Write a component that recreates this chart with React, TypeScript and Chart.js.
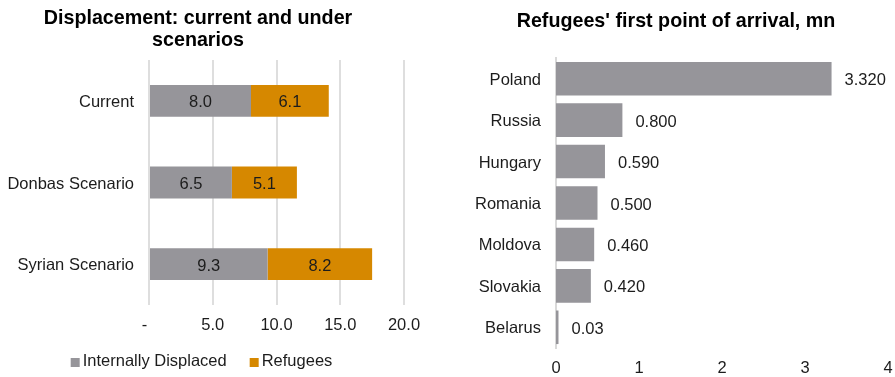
import React, { useEffect, useRef } from "react";
import { Chart, registerables } from "chart.js";

Chart.register(...registerables);

// ---- Data: left chart ----
const scenarioCategories = ["Current", "Donbas Scenario", "Syrian Scenario"];
const internallyDisplaced = [8.0, 6.5, 9.3];
const refugees = [6.1, 5.1, 8.2];
const seriesNames = ["Internally Displaced", "Refugees"];
const displacementTickLabels = ["-  ", "5.0", "10.0", "15.0", "20.0"];
const displacementTitle = ["Displacement: current and under", "scenarios"];

// ---- Data: right chart ----
const arrivalCountries = ["Poland", "Russia", "Hungary", "Romania", "Moldova", "Slovakia", "Belarus"];
const arrivalValues = [3.32, 0.8, 0.59, 0.5, 0.46, 0.42, 0.03];
const arrivalLabels = ["3.320", "0.800", "0.590", "0.500", "0.460", "0.420", "0.03"];
const arrivalTickLabels = ["0", "1", "2", "3", "4"];
const arrivalTitle = "Refugees' first point of arrival, mn";

const FONT = "'Liberation Sans', Arial, Helvetica, sans-serif";
const TEXT = "#1c1c1c";
const GREY = "#96959a";
const ORANGE = "#d68800";
const GRID = "#dedede";
const FS = 16.5;

function makeLabelPlugin(mode: "center" | "end", labels?: string[], offset = 0) {
  return {
    id: "barValueLabels",
    afterDatasetsDraw(chart: any) {
      const ctx = chart.ctx;
      ctx.save();
      ctx.font = `${FS}px ${FONT}`;
      ctx.fillStyle = TEXT;
      ctx.textBaseline = "middle";
      chart.data.datasets.forEach((ds: any, di: number) => {
        const meta = chart.getDatasetMeta(di);
        meta.data.forEach((bar: any, i: number) => {
          const text = labels ? labels[i] : Number(ds.data[i]).toFixed(1);
          if (mode === "center") {
            ctx.textAlign = "center";
            ctx.fillText(text, (bar.x + bar.base) / 2, bar.y + 2);
          } else {
            ctx.textAlign = "left";
            ctx.fillText(text, bar.x + offset, bar.y + 2);
          }
        });
      });
      ctx.restore();
    },
  };
}

function makeLegendPlugin(centerX: number, fromBottom: number) {
  return {
    id: "customLegend",
    afterDraw(chart: any) {
      const ctx = chart.ctx;
      ctx.save();
      ctx.font = `${FS}px ${FONT}`;
      const box = 9;
      const gapText = 3;
      const gapItem = 23;
      const items = chart.data.datasets.map((d: any) => ({
        label: d.label,
        color: d.backgroundColor,
        w: ctx.measureText(d.label).width,
      }));
      const total = items.reduce(
        (s: number, it: any, i: number) => s + box + gapText + it.w + (i ? gapItem : 0),
        0
      );
      let x = centerX - total / 2;
      const baseline = chart.height - fromBottom;
      items.forEach((it: any) => {
        ctx.fillStyle = it.color;
        ctx.fillRect(x, baseline - 8, box, box);
        x += box + gapText;
        ctx.fillStyle = TEXT;
        ctx.textAlign = "left";
        ctx.textBaseline = "alphabetic";
        ctx.fillText(it.label, x, baseline);
        x += it.w + gapItem;
      });
      ctx.restore();
    },
  };
}

export default function App() {
  const leftRef = useRef<HTMLCanvasElement>(null);
  const rightRef = useRef<HTMLCanvasElement>(null);

  useEffect(() => {
    Chart.defaults.font.family = FONT;
    const tickFont = { size: FS, family: FONT };

    const left = new Chart(leftRef.current as HTMLCanvasElement, {
      type: "bar",
      data: {
        labels: scenarioCategories,
        datasets: [
          {
            label: seriesNames[0],
            data: internallyDisplaced,
            backgroundColor: GREY,
            borderWidth: 0,
            barPercentage: 0.39,
            categoryPercentage: 1,
          },
          {
            label: seriesNames[1],
            data: refugees,
            backgroundColor: ORANGE,
            borderWidth: 0,
            barPercentage: 0.39,
            categoryPercentage: 1,
          },
        ],
      },
      options: {
        indexAxis: "y",
        responsive: false,
        animation: false,
        devicePixelRatio: 1,
        layout: { padding: { top: 0, left: 0, right: 28, bottom: 0 } },
        plugins: {
          legend: { display: false },
          tooltip: { enabled: false },
          title: {
            display: true,
            text: displacementTitle,
            color: "#000",
            font: { size: 19.7, weight: "bold", family: FONT, lineHeight: 1.13 },
            padding: { top: 7, bottom: 8.5 },
          },
        },
        scales: {
          x: {
            stacked: true,
            min: 0,
            max: 20,
            ticks: {
              stepSize: 5,
              padding: 11,
              color: TEXT,
              font: tickFont,
              maxRotation: 0,
              autoSkip: false,
              callback: (_v: any, i: number) => displacementTickLabels[i],
            },
            grid: { color: GRID, lineWidth: 2, drawTicks: false },
            border: { display: false },
            afterFit: (s: any) => {
              s.height = 72;
            },
          },
          y: {
            stacked: true,
            ticks: { padding: 15, color: TEXT, font: tickFont, labelOffset: 1.5 },
            grid: { display: false, drawTicks: false },
            border: { display: false },
            afterFit: (s: any) => {
              s.width = 157;
            },
          },
        },
      },
      plugins: [makeLabelPlugin("center"), makeLegendPlugin(209.5, 11)],
    } as any);

    const right = new Chart(rightRef.current as HTMLCanvasElement, {
      type: "bar",
      data: {
        labels: arrivalCountries,
        datasets: [
          {
            label: arrivalTitle,
            data: arrivalValues,
            backgroundColor: GREY,
            borderWidth: 0,
            barPercentage: 0.81,
            categoryPercentage: 1,
          },
        ],
      },
      options: {
        indexAxis: "y",
        responsive: false,
        animation: false,
        devicePixelRatio: 1,
        layout: { padding: { top: 0, left: 0, right: 15, bottom: 0 } },
        plugins: {
          legend: { display: false },
          tooltip: { enabled: false },
          title: {
            display: true,
            text: arrivalTitle,
            color: "#000",
            font: { size: 19.7, weight: "bold", family: FONT, lineHeight: 1.13 },
            padding: { top: 10.5, bottom: 25.2 },
          },
        },
        scales: {
          x: {
            min: 0,
            max: 4,
            ticks: {
              stepSize: 1,
              padding: 10.4,
              color: TEXT,
              font: tickFont,
              maxRotation: 0,
              autoSkip: false,
              callback: (_v: any, i: number) => arrivalTickLabels[i],
            },
            grid: { display: false, drawTicks: false },
            border: { display: false },
            afterFit: (s: any) => {
              s.height = 29;
            },
          },
          y: {
            ticks: { padding: 15, color: TEXT, font: tickFont, labelOffset: 1.5 },
            grid: { display: false, drawTicks: false },
            border: { display: true, color: "#d9d9d9", width: 2 },
            afterFit: (s: any) => {
              s.width = 92;
            },
          },
        },
      },
      plugins: [makeLabelPlugin("end", arrivalLabels, 13)],
    } as any);

    return () => {
      left.destroy();
      right.destroy();
    };
  }, []);

  return (
    <div
      style={{
        position: "fixed",
        left: 0,
        top: 0,
        width: 895,
        height: 377,
        background: "#fff",
        overflow: "hidden",
      }}
    >
      <div style={{ position: "absolute", left: -8, top: 0, width: 440, height: 377 }}>
        <canvas ref={leftRef} width={440} height={377} style={{ display: "block" }} />
      </div>
      <div style={{ position: "absolute", left: 464, top: 0, width: 439, height: 377 }}>
        <canvas ref={rightRef} width={439} height={377} style={{ display: "block" }} />
      </div>
    </div>
  );
}
